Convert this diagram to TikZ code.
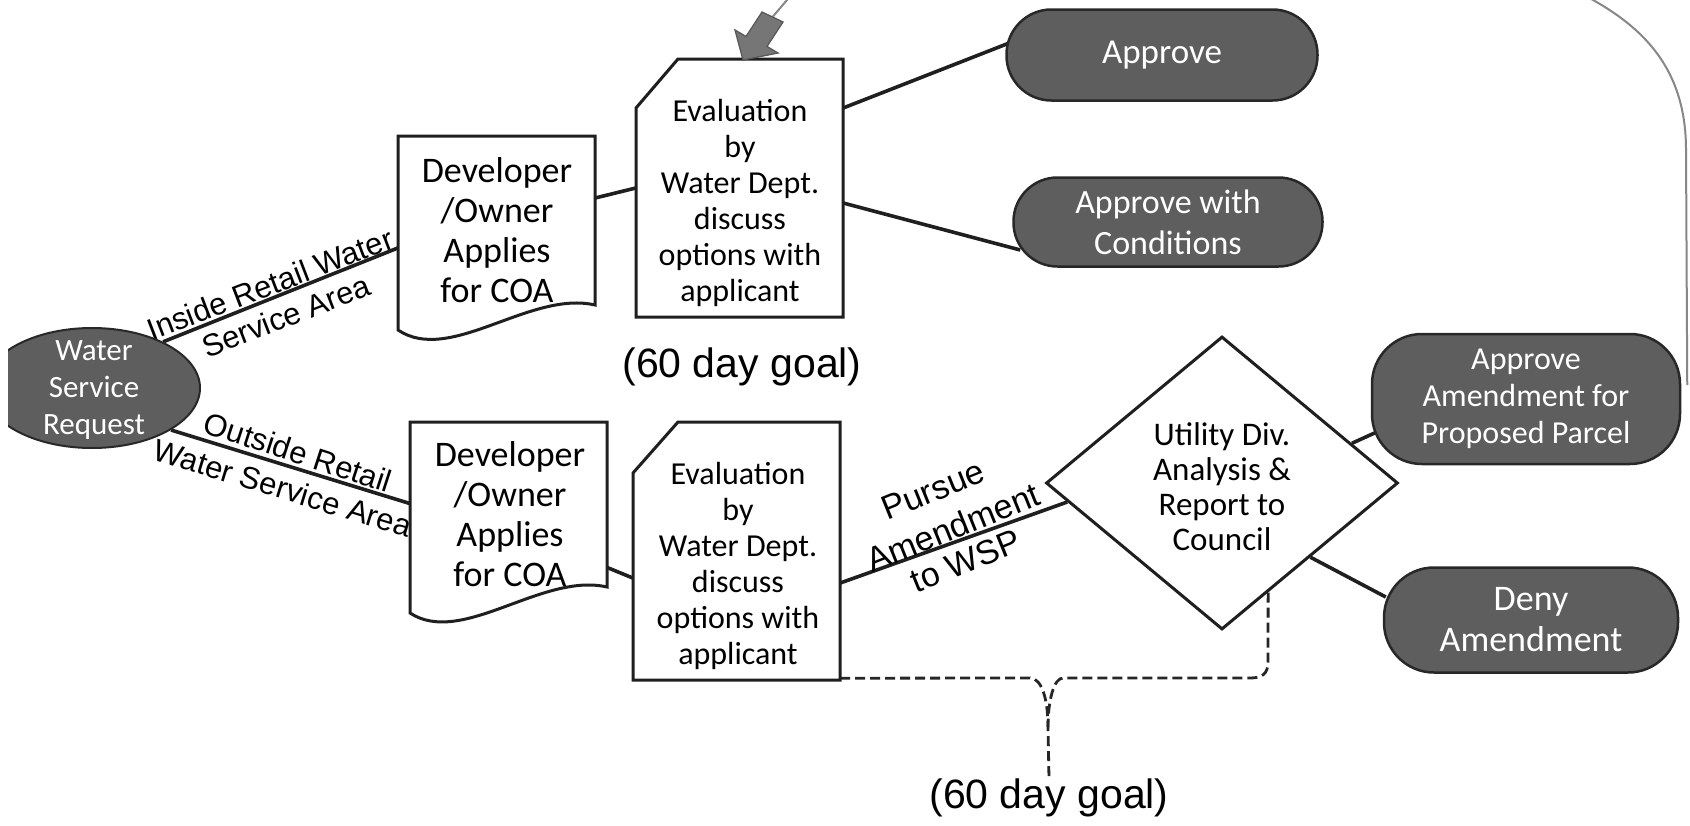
\documentclass[tikz,border=0pt]{standalone}
\usepackage{fontspec}
\setmainfont{Carlito}
\newfontfamily\arialf{Liberation Sans}
\usetikzlibrary{shapes.geometric,calc}
\pgfdeclarelayer{bg}
\pgfsetlayers{bg,main}
\definecolor{boxgray}{RGB}{94,94,94}
\definecolor{edgegray}{RGB}{40,40,40}
\definecolor{retgray}{RGB}{135,135,135}
\definecolor{arrowgray}{RGB}{118,118,118}
\begin{document}
\begin{tikzpicture}[x=1pt,y=-1pt,
  conn/.style={line width=3.6pt, draw=black!88},
  wbox/.style={draw=black!88, line width=3pt, fill=white},
  gbox/.style={draw=edgegray, line width=2.5pt, fill=boxgray, text=white, align=center, inner sep=0pt},
  geo/.style={inner sep=0pt, draw=none},
  btext/.style={align=center, inner sep=0pt},
  lbl/.style={font=\arialf\fontsize{31}{36}\selectfont, inner sep=0pt},
  plbl/.style={font=\arialf\fontsize{34}{38}\selectfont, inner sep=0pt},
  goal/.style={font=\arialf\fontsize{41}{46}\selectfont, inner sep=0pt},
  brace/.style={dash pattern=on 10pt off 5pt, line width=2.8pt, draw=black!85},
  ret/.style={draw=retgray, line width=2pt}]
\useasboundingbox (0,0) rectangle (1690,825);
\begin{pgfonlayer}{bg}
\fill[white] (0,0) rectangle (1690,825);
\end{pgfonlayer}

% ---- Water Service Request (clipped ellipse)
\begin{scope}
\clip (8,300) rectangle (320,470);
\node[ellipse, draw=edgegray, line width=2pt, fill=boxgray, minimum width=216pt, minimum height=120pt, inner sep=0pt] (wsr) at (92,388) {};
\end{scope}
\node[btext, text=white, font=\fontsize{31}{37}\selectfont] (wsrt) at (94,390) {Water\\Service\\Request};

% ---- Developer / Owner documents
\draw[wbox] (398,136) -- (595,136) -- (595,305) .. controls (530,290) and (450,365) .. (398,330) -- cycle;
\node[geo, minimum width=197pt, minimum height=194pt] (dev1) at (496.5,233) {};
\node[btext, font=\fontsize{36}{40}\selectfont] (dev1t) at (497,230) {Developer\\/Owner\\Applies\\for COA};

\draw[wbox] (410,422) -- (607,422) -- (607,587) .. controls (542,572) and (462,647) .. (410,613) -- cycle;
\node[geo, minimum width=197pt, minimum height=191pt] (dev2) at (508.5,517.5) {};
\node[btext, font=\fontsize{36}{40}\selectfont] (dev2t) at (510,514) {Developer\\/Owner\\Applies\\for COA};

% ---- Evaluation cards
\draw[wbox] (636,108) -- (678,59) -- (843,59) -- (843,317) -- (636,317) -- cycle;
\node[geo, minimum width=207pt, minimum height=258pt] (eval1) at (739.5,188) {};
\node[btext, font=\fontsize{32}{36}\selectfont] (eval1t) at (740,203) {Evaluation\\by\\Water Dept.\\discuss\\options with\\applicant};

\draw[wbox] (633,473) -- (678,422) -- (840,422) -- (840,680) -- (633,680) -- cycle;
\node[geo, minimum width=207pt, minimum height=258pt] (eval2) at (736.5,551) {};
\node[btext, font=\fontsize{32}{36}\selectfont] (eval2t) at (738,566) {Evaluation\\by\\Water Dept.\\discuss\\options with\\applicant};

% ---- Diamond
\node[diamond, draw=black!88, line width=3pt, fill=white, minimum width=352pt, minimum height=293pt, inner sep=0pt] (dm) at (1222,483) {};
\node[btext, font=\fontsize{33}{35}\selectfont] (dmt) at (1222,487) {Utility Div.\\Analysis \&\\Report to\\Council};

% ---- Outcome boxes
\node[gbox, rounded corners=45pt, minimum width=311pt, minimum height=91pt, font=\fontsize{35}{41}\selectfont] (ap) at (1162,55) {Approve};
\node[gbox, rounded corners=44pt, minimum width=309pt, minimum height=89pt, font=\fontsize{34}{41}\selectfont] (ac) at (1168,222) {Approve with\\Conditions};
\node[gbox, rounded corners=50pt, minimum width=308pt, minimum height=130pt, font=\fontsize{32}{37}\selectfont] (aa) at (1526,399) {Approve\\Amendment for\\Proposed Parcel};
\node[gbox, rounded corners=50pt, minimum width=294pt, minimum height=105pt, font=\fontsize{36}{41}\selectfont] (dn) at (1531,620) {Deny\\Amendment};

% ---- goal texts
\node[goal] (goal1) at (742,367) {(60 day goal)};
\node[goal] (goal2) at (1049,798) {(60 day goal)};

% ---- return arrow head (block arrow)
\coordinate (rtail) at (772.5,17);
\filldraw[fill=arrowgray, draw=black!65, line width=1.3pt] (783,22) -- (767,46.5) -- (778,53) -- (743,60) -- (735,30) -- (746,36.5) -- (762,12) -- cycle;

% ---- connectors and labels underneath
\begin{pgfonlayer}{bg}
\draw[conn] (wsr.33) -- ([yshift=-15pt]dev1.west);
\draw[conn] (wsr.-28) -- ([yshift=14pt]dev2.west);
\draw[conn] ([yshift=35pt]dev1.east) -- (eval1.west);
\draw[conn] ([yshift=-50pt]dev2.east) -- ([yshift=-27pt]eval2.west);
\draw[conn] ([yshift=80pt]eval1.east) -- ([xshift=4pt,yshift=12pt]ap.west);
\draw[conn] ([yshift=-15pt]eval1.east) -- ([xshift=8pt,yshift=-28pt]ac.west);
\draw[conn] ([yshift=-32pt]eval2.east) -- (dm.187);
\draw[conn] (dm.17) -- ([xshift=6pt,yshift=-33pt]aa.west);
\draw[conn] (dm.320) -- ([xshift=3pt,yshift=23pt]dn.west);

\node[lbl, rotate=21] at (270,284) {Inside Retail Water};
\node[lbl, rotate=21] at (286,316) {Service Area};
\node[lbl, rotate=-18] at (298,452) {Outside Retail};
\node[lbl, rotate=-17] at (283,488) {Water Service Area};
\node[plbl, rotate=22] at (933,490) {Pursue};
\node[plbl, rotate=22] at (953,527) {Amendment};
\node[plbl, rotate=22] at (966,561) {to WSP};

\draw[brace] ([yshift=2pt]eval2.south east) -- (1030,678) .. controls (1042,678) and (1048,700) .. (1048,727) -- (goal2.north);
\draw[brace] ($(dm.south)!0.26!(dm.east)$) -- (1268,662) .. controls (1268,674) and (1262,678) .. (1250,678) -- (1063,678) .. controls (1054,678) and (1048,700) .. (1048,727);

\draw[ret] ([xshift=6pt,yshift=14pt]aa.east) -- (1686,150) .. controls (1686,75) and (1650,32) .. (1593,0) .. controls (1479,-60) and (860,-100) .. (787,0) -- (rtail);
\end{pgfonlayer}
\end{tikzpicture}
\end{document}
